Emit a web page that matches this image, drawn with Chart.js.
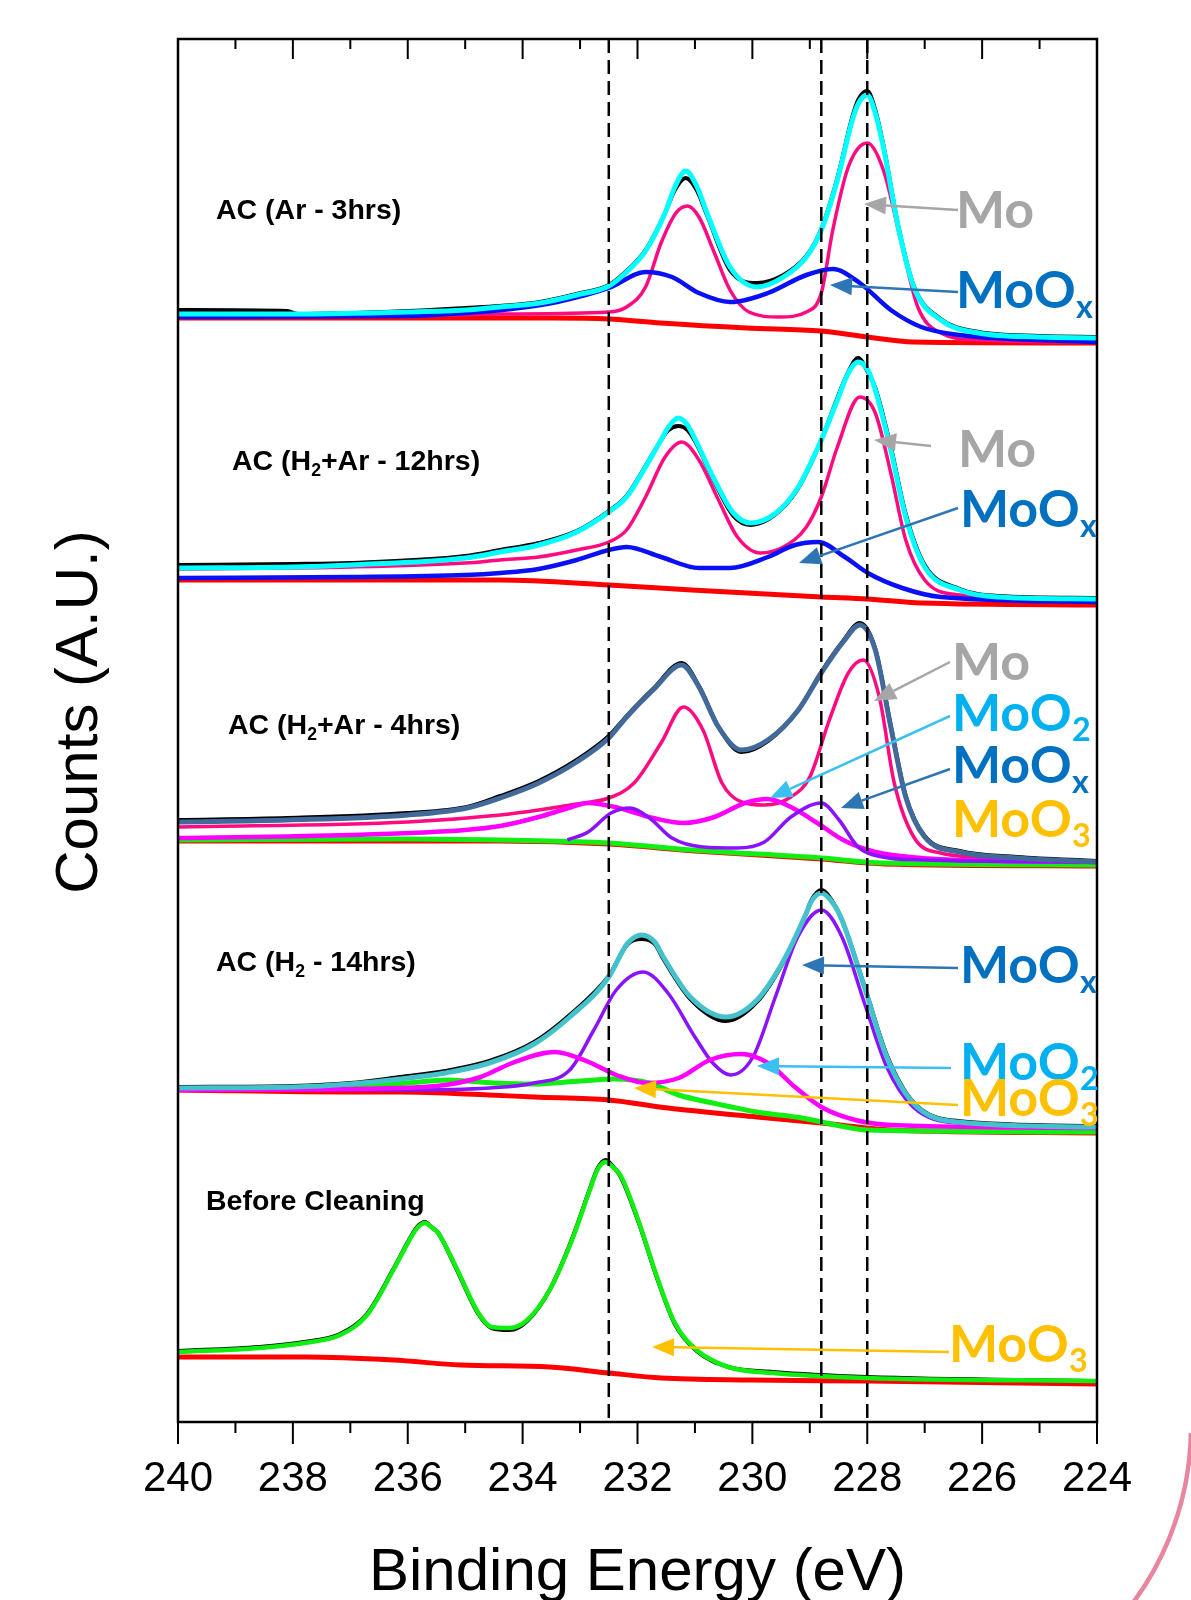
<!DOCTYPE html>
<html><head><meta charset="utf-8">
<script src="https://cdn.jsdelivr.net/npm/chart.js@4.4.0/dist/chart.umd.min.js"></script>
<style>html,body{margin:0;padding:0;background:#fff;}canvas{display:block;}</style>
</head><body>
<canvas id="c" width="1191" height="1600"></canvas>
<script>
// ---------- axis / reference data ----------
const xTickLabels = [240, 238, 236, 234, 232, 230, 228, 226, 224];
const refLines = [232.5, 228.8, 228.0];   // dashed reference energies (eV)

// ---------- Panel 1 : AC (Ar - 3hrs) ----------  [binding energy, counts A.U.]
const p1Data = [[240,1112],[238.1,1111],[237.9,1108],[236,1111],[235,1114],[234.4,1116],[233.7,1120],[233.06,1128],[232.5,1137],[232.19,1151],[231.86,1172],[231.52,1209],[231.35,1232],[231.16,1244],[230.97,1232],[230.79,1207],[230.39,1152],[229.92,1139],[229.46,1147],[229.06,1166],[228.8,1193],[228.52,1244],[228.26,1305],[228.15,1323],[228.0,1331],[227.86,1312],[227.72,1277],[227.46,1196],[227.19,1136],[226.72,1103],[226.06,1090],[225,1086],[224,1085]];
const p1Fit = [[240,1108],[238,1108],[236,1110],[235,1112],[234.4,1115],[233.7,1119],[233.06,1127],[232.5,1136],[232.19,1150],[231.86,1171],[231.52,1209],[231.35,1235],[231.16,1251],[230.97,1236],[230.79,1209],[230.39,1155],[229.92,1135],[229.46,1145],[229.06,1165],[228.8,1192],[228.52,1242],[228.26,1302],[228.15,1319],[228.0,1327],[227.86,1309],[227.72,1275],[227.46,1195],[227.19,1135],[226.72,1102],[226.06,1089],[225,1085],[224,1084]];
const p1Mo = [[240,1105],[236,1106],[234.4,1108],[232.5,1110],[232.19,1115],[231.86,1135],[231.59,1179],[231.33,1209],[231.13,1216],[230.93,1205],[230.66,1169],[230.39,1132],[230.06,1110],[229.53,1105],[229.06,1110],[228.8,1129],[228.6,1192],[228.33,1255],[228.0,1279],[227.72,1252],[227.39,1175],[227.12,1115],[226.72,1089],[226.06,1082],[224,1080]];
const p1MoOx = [[240,1105],[236,1106],[235,1109],[234.2,1113],[233.4,1120],[232.5,1134],[231.86,1150],[231.4,1145],[230.93,1129],[230.39,1120],[229.73,1129],[229.06,1147],[228.6,1153],[228.13,1139],[227.59,1112],[227.06,1095],[226.39,1087],[224,1080]];
const p1Bg = [[240,1104],[233.5,1104],[232.5,1103],[231.6,1099],[230.1,1094],[228.8,1091],[228.0,1085],[227.2,1080],[224,1079]];

// ---------- Panel 2 : AC (H2+Ar - 12hrs) ----------
const p2Data = [[240,857],[238,858],[237,859],[235,866],[234.39,872],[233.72,879],[233.06,891],[232.5,911],[232.19,926],[231.86,956],[231.59,982],[231.46,992],[231.29,996],[231.13,992],[230.99,980],[230.66,940],[230.33,906],[230.03,897],[229.59,908],[229.2,934],[228.8,982],[228.52,1024],[228.33,1050],[228.16,1064],[227.99,1050],[227.86,1034],[227.59,975],[227.33,908],[227.0,857],[226.39,833],[225.73,826],[224,824]];
const p2Fit = [[240,854],[238,855],[237,857],[235,864],[234.39,870],[233.72,877],[233.06,890],[232.5,910],[232.19,925],[231.86,955],[231.59,982],[231.46,995],[231.29,1004],[231.13,997],[230.99,982],[230.66,942],[230.33,909],[230.03,899],[229.59,909],[229.2,935],[228.8,982],[228.52,1022],[228.33,1049],[228.16,1060],[227.99,1052],[227.86,1032],[227.59,972],[227.33,905],[227.0,855],[226.39,832],[225.73,825],[224,823]];
const p2Mo = [[240,853],[237,855],[235,859],[234.39,862],[233.72,865],[233.06,872],[232.5,880],[232.19,892],[231.86,925],[231.52,965],[231.23,980],[230.93,962],[230.59,922],[230.26,885],[229.86,869],[229.46,875],[229.06,895],[228.8,925],[228.52,975],[228.13,1025],[227.86,1009],[227.59,949],[227.33,882],[227.0,842],[226.39,827],[224,820]];
const p2MoOx = [[240,844],[237,845],[235,847],[234.39,849],[233.72,853],[233.06,862],[232.5,872],[232.19,875],[231.59,865],[230.93,854],[230.39,854],[229.73,865],[229.26,877],[228.86,880],[228.39,865],[227.99,849],[227.39,834],[226.72,825],[224,820]];
const p2Bg = [[240,842],[234.39,842],[232.5,837],[231.06,832],[228.8,825],[228.0,823],[227.06,819],[224,817]];

// ---------- Panel 3 : AC (H2+Ar - 4hrs) ----------
const p3Data = [[240,602],[238.1,604],[236.0,609],[234.97,615],[234.39,626],[233.72,641],[233.06,662],[232.5,686],[232.19,706],[231.73,733],[231.23,759],[230.93,736],[230.59,695],[230.19,670],[229.73,681],[229.2,712],[228.8,750],[228.42,781],[228.13,799],[227.86,773],[227.59,696],[227.33,626],[227.0,586],[226.39,571],[225.39,565],[224,561]];
const p3Fit = [[240,600],[238.1,602],[236.0,607],[234.97,614],[234.39,624],[233.72,639],[233.06,660],[232.5,684],[232.19,705],[231.73,732],[231.23,757],[230.93,735],[230.59,695],[230.19,672],[229.73,682],[229.2,712],[228.8,749],[228.42,780],[228.13,797],[227.86,772],[227.59,695],[227.33,625],[227.0,585],[226.39,570],[225.39,564],[224,560]];
const p3Mo = [[240,595],[236.0,600],[234.39,607],[233.72,612],[233.06,618],[232.5,624],[232.06,639],[231.59,679],[231.2,715],[230.86,692],[230.53,639],[230.19,620],[229.79,617],[229.33,625],[229.0,645],[228.66,702],[228.33,749],[228.07,762],[227.79,725],[227.53,639],[227.19,585],[226.72,569],[225.73,564],[224,560]];
const p3MoO2 = [[240,584],[237.0,587],[235.0,592],[234.39,596],[233.72,605],[233.2,614],[232.86,619],[232.39,615],[231.73,604],[231.2,599],[230.66,605],[230.13,619],[229.73,623],[229.33,615],[228.87,599],[228.42,582],[227.86,570],[227.06,564],[225.7,561],[224,560]];
const p3MoOx = [[233.22,582],[232.86,590],[232.46,609],[232.13,614],[231.79,604],[231.4,584],[230.86,575],[230.26,574],[229.79,580],[229.33,605],[228.8,619],[228.49,602],[228.16,575],[227.73,565],[227.06,562],[224,560]];
const p3MoO3 = [[240,582],[236,583],[234.4,582],[232.9,580],[232.5,579],[231.06,572],[228.8,564],[227.73,559],[224,557]];
const p3Bg = [[240,581],[234.4,581],[232.5,578],[231.0,571],[228.8,563],[227.7,558],[224,556]];

// ---------- Panel 4 : AC (H2 - 14hrs) ----------
const p4Data = [[240,335],[238,336],[237.0,339],[236.13,345],[235.35,351],[234.58,361],[233.8,380],[233.18,407],[232.5,446],[232.17,478],[231.93,483],[231.7,478],[231.55,463],[231.08,423],[230.46,401],[229.92,420],[229.45,461],[229.06,509],[228.98,521],[228.8,532],[228.6,520],[228.44,502],[228.05,436],[227.66,367],[227.2,320],[226.42,301],[224,296]];
const p4Fit = [[240,334],[238,335],[237.0,338],[236.13,343],[235.35,349],[234.58,359],[233.8,378],[233.18,405],[232.5,445],[232.25,472],[232.17,479],[231.93,487],[231.7,480],[231.55,465],[231.08,425],[230.46,405],[229.92,422],[229.45,462],[229.06,509],[228.98,520],[228.8,529],[228.6,519],[228.44,502],[228.05,435],[227.66,365],[227.2,319],[226.42,300],[224,295]];
const p4MoOx = [[240,332],[236.13,332],[234.58,334],[233.8,339],[233.18,352],[232.76,392],[232.37,432],[231.9,450],[231.47,429],[231.0,385],[230.69,359],[230.38,347],[229.99,365],[229.6,425],[229.21,485],[228.8,512],[228.44,485],[228.05,419],[227.66,355],[227.2,315],[226.42,299],[224,295]];
const p4MoO2 = [[240,332],[236.13,334],[235.35,337],[234.73,345],[234.18,359],[233.44,370],[232.85,360],[232.37,347],[231.83,339],[231.28,344],[230.74,362],[230.2,368],[229.73,359],[229.26,335],[228.8,315],[228.21,302],[227.59,297],[224,294]];
const p4MoO3 = [[240,333],[237,335],[236,339],[235.3,342],[234.5,339],[233.8,338],[233.0,341],[232.4,343],[231.8,339],[231.28,327],[230.69,319],[229.92,310],[229.14,304],[228.37,295],[227.98,292],[224,290]];
const p4Bg = [[240,332],[237,330],[236.13,330],[234.58,327],[233.8,325],[232.5,322],[231.47,314],[229.92,305],[228.8,299],[227.59,292],[224,289]];

// ---------- Panel 5 : Before Cleaning ----------
const p5Data = [[240,71],[238.58,75],[237.8,80],[237.18,88],[236.71,108],[236.25,153],[235.94,186],[235.82,196],[235.70,200],[235.59,195],[235.47,189],[235.16,154],[234.77,108],[234.54,94],[234.23,92],[233.92,101],[233.53,132],[233.14,183],[232.83,233],[232.7,253],[232.56,262],[232.43,256],[232.29,245],[231.97,198],[231.66,144],[231.35,98],[230.97,71],[230.42,55],[229.64,50],[228.01,45],[224,41]];
const p5Fit = [[240,70],[238.58,74],[237.8,79],[237.18,87],[236.71,107],[236.25,152],[235.94,185],[235.82,195],[235.70,199],[235.59,195],[235.47,189],[235.16,155],[234.77,109],[234.54,95],[234.23,94],[233.92,102],[233.53,132],[233.14,182],[232.83,232],[232.7,252],[232.56,260],[232.43,255],[232.29,246],[231.97,199],[231.66,145],[231.35,99],[230.97,72],[230.42,55],[229.64,49],[228.01,44],[224,41]];
const p5Bg = [[240,65],[237.8,65],[236.25,62],[235.08,57],[233.53,55],[232.5,49],[231.58,44],[230.03,42],[228.0,41],[224,38]];

// ---------- styling ----------
const C = {data:'#000000', cyan:'#00FFFF', mo:'#FF0A80', moox1:'#0A10F5', bg:'#FF0000',
           steel:'#41699A', mag:'#FF00FF', purple:'#8A12FF', green:'#11EE11', teal:'#44C2CC'};

// painting order: first = bottom
const layers = [
  [p1Bg,C.bg,5],[p1Data,C.data,4],[p1Mo,C.mo,3.5],[p1MoOx,C.moox1,4.5],[p1Fit,C.cyan,5],
  [p2Bg,C.bg,5],[p2Data,C.data,4],[p2Mo,C.mo,3.5],[p2MoOx,C.moox1,4.5],[p2Fit,C.cyan,5],
  [p3Bg,C.bg,5],[p3MoO3,C.green,5],[p3Data,C.data,4],[p3Mo,C.mo,3.5],[p3MoO2,C.mag,4.5],[p3MoOx,C.purple,3.5],[p3Fit,C.steel,5],
  [p4Bg,C.bg,5],[p4MoO3,C.green,5],[p4Data,C.data,4],[p4MoOx,C.purple,3.5],[p4MoO2,C.mag,4.5],[p4Fit,C.teal,5],
  [p5Bg,C.bg,5],[p5Data,C.data,4],[p5Fit,C.green,4.5]
];
const datasets = layers.map((l, i) => ({
  data: l[0].map(p => ({x: p[0], y: p[1]})),
  borderColor: l[1], borderWidth: l[2], pointRadius: 0, fill: false,
  cubicInterpolationMode: 'monotone', order: layers.length - i
}));

const FONT = "'Liberation Sans', Arial, Helvetica, sans-serif";
const AFONT = "Lato, 'Open Sans', sans-serif";

const panelLabels = [
  {parts:[['AC (Ar - 3hrs)',0]], x:216, y:211},
  {parts:[['AC (H',0],['2',1],['+Ar - 12hrs)',0]], x:232, y:462},
  {parts:[['AC (H',0],['2',1],['+Ar - 4hrs)',0]], x:228, y:726},
  {parts:[['AC (H',0],['2',1],[' - 14hrs)',0]], x:216, y:963},
  {parts:[['Before Cleaning',0]], x:206, y:1202}
];
const COL = {Mo:'#A6A6A6', MoOx:'#0070C0', MoO2:'#00B0F0', MoO3:'#FFC000'};
const ARR = {Mo:'#A6A6A6', MoOx:'#2E75B6', MoO2:'#3CC0F2', MoO3:'#FFC000'};
const annos = [
  {k:'Mo', x:956, y:211, a:[958,210,864,204]},
  {k:'MoOx', x:956, y:291, a:[958,292,830,285]},
  {k:'Mo', x:958, y:450, a:[931,446,874,440]},
  {k:'MoOx', x:960, y:510, a:[958,508,799,563]},
  {k:'Mo', x:952, y:663, a:[950,662,874,701]},
  {k:'MoO2', x:952, y:714, a:[950,716,770,798]},
  {k:'MoOx', x:952, y:766, a:[950,769,841,808]},
  {k:'MoO3', x:952, y:820},
  {k:'MoOx', x:960, y:966, a:[958,968,802,965]},
  {k:'MoO2', x:960, y:1063, a:[951,1068,757,1066]},
  {k:'MoO3', x:960, y:1099, a:[958,1105,634,1088]},
  {k:'MoO3', x:949, y:1345, a:[949,1352,652,1347]}
];

function drawParts(ctx, parts, x, y, size, weight, family, color) {
  ctx.fillStyle = color; ctx.textBaseline = 'middle'; ctx.textAlign = 'left';
  let cx = x;
  for (const [t, sub] of parts) {
    const s = sub ? size * 0.62 : size;
    ctx.font = `${weight} ${s}px ${family}`;
    ctx.fillText(t, cx, sub ? y + size * 0.32 : y);
    cx += ctx.measureText(t).width;
  }
}
function arrow(ctx, x1, y1, x2, y2, color) {
  const ang = Math.atan2(y2 - y1, x2 - x1), L = 22, W = 9;
  const bx = x2 - L * Math.cos(ang), by = y2 - L * Math.sin(ang);
  ctx.strokeStyle = color; ctx.lineWidth = 2.5;
  ctx.beginPath(); ctx.moveTo(x1, y1); ctx.lineTo(bx, by); ctx.stroke();
  ctx.fillStyle = color; ctx.beginPath();
  ctx.moveTo(x2, y2);
  ctx.lineTo(bx + W * Math.sin(ang), by - W * Math.cos(ang));
  ctx.lineTo(bx - W * Math.sin(ang), by + W * Math.cos(ang));
  ctx.closePath(); ctx.fill();
}
function chemParts(k) {
  if (k === 'Mo') return [['Mo',0]];
  return [['MoO',0],[k.slice(3),1]];
}

const deco = {
  id: 'deco',
  afterDatasetsDraw(chart) {
    const {ctx, chartArea: a, scales: {x}} = chart;
    ctx.save();
    // dashed reference lines
    ctx.strokeStyle = '#000'; ctx.lineWidth = 2.5; ctx.setLineDash([14, 7]);
    refLines.forEach(e => { const px = x.getPixelForValue(e);
      ctx.beginPath(); ctx.moveTo(px, a.top); ctx.lineTo(px, a.bottom); ctx.stroke(); });
    ctx.setLineDash([]);
    // frame
    ctx.lineWidth = 2.5; ctx.strokeRect(a.left, a.top, a.right - a.left, a.bottom - a.top);
    // ticks
    ctx.lineWidth = 2;
    x.ticks.forEach(t => { const px = x.getPixelForValue(t.value); const major = xTickLabels.includes(t.value);
      ctx.beginPath();
      ctx.moveTo(px, a.bottom); ctx.lineTo(px, a.bottom + (major ? 22 : 11));
      ctx.moveTo(px, a.top); ctx.lineTo(px, a.top + (major ? 20 : 10));
      ctx.stroke(); });
    // panel labels
    panelLabels.forEach(p => drawParts(ctx, p.parts, p.x, p.y, 28.5, 'bold', FONT, '#000'));
    // annotations
    annos.forEach(n => {
      if (n.a) arrow(ctx, n.a[0], n.a[1], n.a[2], n.a[3], ARR[n.k]);
      drawParts(ctx, chemParts(n.k), n.x, n.y, 52, 'bold', AFONT, COL[n.k]);
    });
    // axis titles
    ctx.fillStyle = '#000'; ctx.font = `60px ${FONT}`; ctx.textAlign = 'center'; ctx.textBaseline = 'middle';
    ctx.fillText('Binding Energy (eV)', (a.left + a.right) / 2, 1573);
    ctx.save(); ctx.translate(80, 712); ctx.rotate(-Math.PI / 2);
    ctx.fillText('Counts (A.U.)', 0, 0); ctx.restore();
    // decorative arc (slide element)
    ctx.strokeStyle = '#E8869F'; ctx.lineWidth = 4.5;
    ctx.beginPath(); ctx.arc(896, 1427, 295, 0.02, 0.75); ctx.stroke();
    ctx.restore();
  }
};

new Chart(document.getElementById('c'), {
  type: 'line',
  data: {datasets},
  options: {
    responsive: false, animation: false, devicePixelRatio: 1,
    layout: {padding: {left: 178, right: 94, top: 39, bottom: 0}},
    plugins: {legend: {display: false}, tooltip: {enabled: false}},
    scales: {
      x: {type: 'linear', min: 224, max: 240, reverse: true,
          grid: {display: false, drawTicks: false}, border: {display: false},
          ticks: {stepSize: 1, autoSkip: false, maxRotation: 0, padding: 32, color: '#000',
                  font: {size: 42, family: FONT},
                  callback: v => xTickLabels.includes(v) ? String(v) : ''},
          afterFit: s => { s.height = 178; }},
      y: {display: false, min: 0, max: 1383}
    }
  },
  plugins: [deco]
});
</script>
</body></html>
